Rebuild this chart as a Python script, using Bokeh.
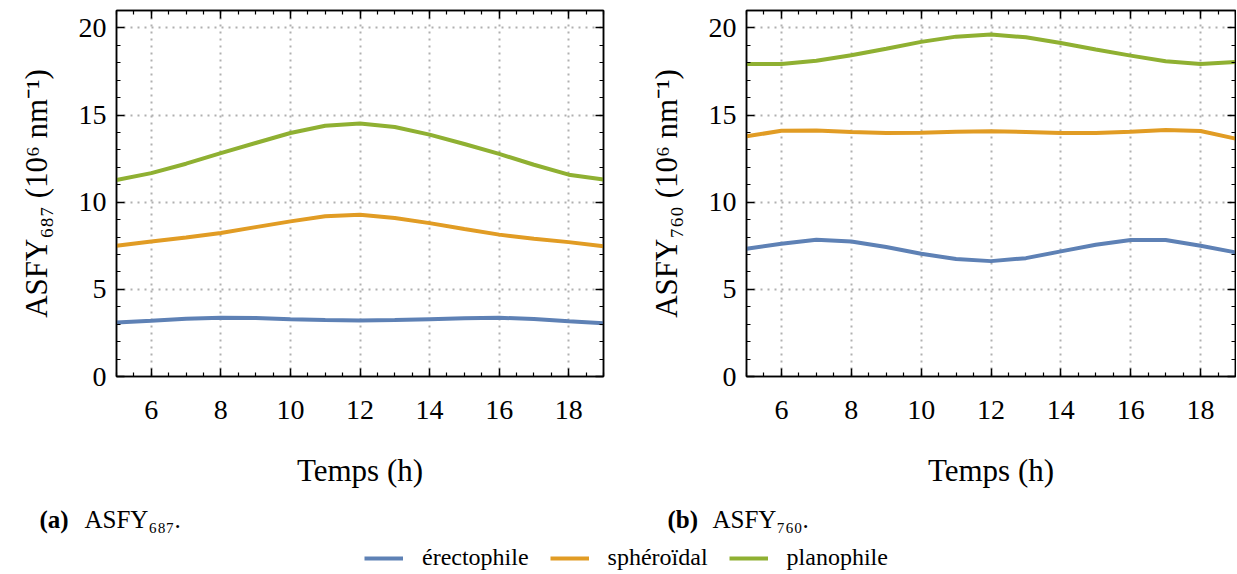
from bokeh.plotting import figure
from bokeh.models import (LinearAxis, SingleIntervalTicker, Range1d, Legend,
                          LegendItem, Grid, CustomJSTickFormatter)
from bokeh.layouts import column, row
from bokeh.embed import file_html
from bokeh.resources import INLINE
from bokeh.core.properties import value

# ---------------- data ----------------
hours = [5, 6, 7, 8, 9, 10, 11, 12, 13, 14, 15, 16, 17, 18, 19]

asfy687_erectophile = [3.10, 3.20, 3.31, 3.37, 3.35, 3.29, 3.24, 3.22, 3.24, 3.29, 3.34, 3.37, 3.30, 3.17, 3.06]
asfy687_spheroidal = [7.50, 7.75, 7.98, 8.23, 8.57, 8.90, 9.19, 9.28, 9.10, 8.80, 8.46, 8.14, 7.90, 7.71, 7.47]
asfy687_planophile = [11.27, 11.67, 12.21, 12.82, 13.40, 13.97, 14.39, 14.52, 14.32, 13.88, 13.34, 12.77, 12.15, 11.58, 11.30]

asfy760_erectophile = [7.33, 7.62, 7.85, 7.75, 7.43, 7.04, 6.74, 6.62, 6.79, 7.18, 7.56, 7.83, 7.83, 7.50, 7.12]
asfy760_spheroidal = [13.78, 14.10, 14.12, 14.03, 13.97, 13.99, 14.05, 14.07, 14.03, 13.97, 13.97, 14.05, 14.14, 14.09, 13.65]
asfy760_planophile = [17.93, 17.93, 18.12, 18.43, 18.81, 19.20, 19.50, 19.62, 19.46, 19.14, 18.76, 18.41, 18.09, 17.93, 18.05]

series_names = ["érectophile", "sphéroïdal", "planophile"]
colors = ["#5E81B5", "#E19C24", "#8FB032"]

xlabel = "Temps (h)"
ylabel_687 = "ASFY₆₈₇ (10⁶ nm⁻¹)"
ylabel_760 = "ASFY₇₆₀ (10⁶ nm⁻¹)"
caption_tags = ["(a)", "(b)"]
caption_texts = ["ASFY₆₈₇.", "ASFY₇₆₀."]

FONT = "Liberation Serif"
TICK_SIZE = "28px"
LABEL_SIZE = "31px"

FRAME_H = 366
BORDER_TOP = 10
BORDER_BOTTOM = 118
BLANK = CustomJSTickFormatter(code="return ''")


def style_axis(ax, show_labels):
    ax.axis_line_color = "black"
    ax.axis_line_width = 1.5
    ax.major_tick_in = 8
    ax.major_tick_out = 0
    ax.minor_tick_in = 4
    ax.minor_tick_out = 0
    ax.major_tick_line_color = "black"
    ax.minor_tick_line_color = "black"
    ax.major_tick_line_width = 1.5
    ax.minor_tick_line_width = 1.2
    ax.major_label_text_font = FONT
    ax.major_label_text_color = "black"
    ax.axis_label_text_font = FONT
    ax.axis_label_text_font_style = "normal"
    ax.axis_label_text_color = "black"
    ax.axis_label_text_font_size = LABEL_SIZE
    if show_labels:
        ax.major_label_text_font_size = TICK_SIZE
    else:
        ax.formatter = BLANK
        ax.major_label_text_font_size = "1px"
        ax.major_label_standoff = 0


def make_panel(ys, ylabel, frame_w, border_left, border_right):
    p = figure(frame_width=frame_w, frame_height=FRAME_H,
               x_range=Range1d(5, 19), y_range=Range1d(0, 21),
               x_axis_type=None, y_axis_type=None,
               output_backend="svg", toolbar_location=None,
               min_border_left=border_left, min_border_right=border_right,
               min_border_top=BORDER_TOP, min_border_bottom=BORDER_BOTTOM)
    p.outline_line_color = "black"
    p.outline_line_width = 1.5
    p.background_fill_color = "white"
    p.border_fill_color = "white"

    xt = SingleIntervalTicker(interval=2, num_minor_ticks=4)
    yt = SingleIntervalTicker(interval=5, num_minor_ticks=5)

    xb = LinearAxis(ticker=xt, axis_label=xlabel)
    style_axis(xb, True)
    xb.major_label_standoff = 24
    xb.axis_label_standoff = 31
    p.add_layout(xb, "below")

    yl = LinearAxis(ticker=yt, axis_label=ylabel)
    style_axis(yl, True)
    yl.major_label_standoff = 10
    yl.axis_label_standoff = 22
    p.add_layout(yl, "left")

    xa = LinearAxis(ticker=xt)
    style_axis(xa, False)
    p.add_layout(xa, "above")

    yr = LinearAxis(ticker=yt)
    style_axis(yr, False)
    p.add_layout(yr, "right")

    for dim, tk in ((0, xt), (1, yt)):
        g = Grid(dimension=dim, ticker=tk)
        g.grid_line_color = "#b0b0b0"
        g.grid_line_width = 2
        g.grid_line_dash = "2 5"
        p.add_layout(g)

    for y, c in zip(ys, colors):
        p.line(hours, y, line_color=c, line_width=4)
    return p


p1 = make_panel([asfy687_erectophile, asfy687_spheroidal, asfy687_planophile],
                ylabel_687, 487, 116, 27)
p2 = make_panel([asfy760_erectophile, asfy760_spheroidal, asfy760_planophile],
                ylabel_760, 489, 116, 1)

# ---------------- captions + legend ----------------
BOT_W = 1236
BOT_H = 78
bot = figure(width=BOT_W, height=BOT_H, x_range=Range1d(0, BOT_W), y_range=Range1d(0, BOT_H),
             x_axis_type=None, y_axis_type=None,
             output_backend="svg", toolbar_location=None, min_border=0)
bot.outline_line_color = None
bot.background_fill_color = "white"
bot.border_fill_color = "white"

tag_x = [39, 667]
text_x = [84, 712]
cap_y = [53, 53]
bot.text(x=tag_x, y=cap_y, text=caption_tags, text_font=value(FONT), text_font_style="bold",
         text_font_size="25px", text_baseline="middle", text_align="left", text_color="black")
bot.text(x=text_x, y=cap_y, text=caption_texts, text_font=value(FONT),
         text_font_size="25px", text_baseline="middle", text_align="left", text_color="black")

items = []
nan = float("nan")
for name, c in zip(series_names, colors):
    r = bot.line(x=[nan], y=[nan], line_color=c, line_width=4)
    items.append(LegendItem(label=name, renderers=[r]))
leg = Legend(items=items, location=(364, 1), orientation="horizontal",
             glyph_width=39, glyph_height=22, label_standoff=19, spacing=21,
             padding=0, margin=0, border_line_color=None, background_fill_alpha=0,
             label_text_font=FONT, label_text_font_size="24px", label_text_color="black",
             label_height=22)
bot.add_layout(leg)

layout = column(row(p1, p2), bot)
open("out.html", "w").write(file_html(layout, INLINE))
